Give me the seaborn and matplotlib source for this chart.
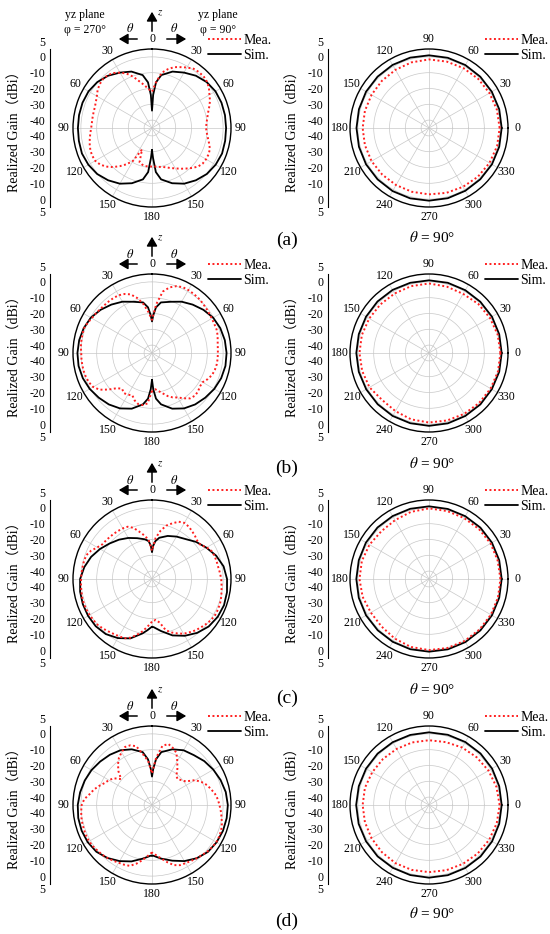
import numpy as np
import matplotlib
matplotlib.use("Agg")
import matplotlib.pyplot as plt
from matplotlib.patches import FancyArrowPatch
from matplotlib.ticker import FixedLocator, FixedFormatter, MultipleLocator
import seaborn as sns

sns.set_theme(style="white")
plt.rcParams["font.family"] = ["Liberation Serif", "Noto Sans CJK SC"]
plt.rcParams["mathtext.fontset"] = "stix"
plt.rcParams["axes.unicode_minus"] = False
plt.rcParams.update({"axes.edgecolor": "black", "text.color": "black",
                     "xtick.color": "black", "ytick.color": "black",
                     "axes.labelcolor": "black"})

# ---------------- data ----------------
# elevation cuts (yz plane): negative theta = phi 270 side, positive = phi 90 side
THETA_SIM = [-180, -178, -175, -170, -160, -150, -140, -130, -120, -110, -100, -90,
             -80, -70, -60, -50, -40, -30, -20, -10, -5, -2, 0, 2, 5, 10, 20, 30,
             40, 50, 60, 70, 80, 90, 100, 110, 120, 130, 140, 150, 160, 170, 175, 178, 180]
THETA_MEA = list(range(-180, 181, 5))

SIM_A = [-31, -26, -17, -12, -7.8, -4.3, -1.8, 0.3, 1.5, 2.2, 2.0, 1.9,
         1.9, 1.8, 1.4, 0.2, -1.8, -4.5, -7, -11, -16, -24, -34, -24, -16, -11, -7, -4.5,
         -1.8, 0.2, 1.4, 1.8, 1.9, 1.9, 2.0, 2.2, 1.5, 0.3, -1.8, -4.3, -7.8, -12, -17, -26, -31]
MEA_A = [-20.6, -20.6, -20.5, -21, -22, -30, -21, -17, -13.5, -10, -7, -4.8,
         -3.5, -3.3, -3.5, -4.2, -5, -5.8, -6.5, -6.8, -6.8, -6.7, -6.5, -5.8,
         -4.7, -3, -1.8, -1.2, -1.4, -2.5, -4.5, -7, -10.5, -14.5, -17.5, -20.3,
         -22,
         -16, -9.5, -6.5, -4, -2.5, -0.8, 0.8, 1.2, 1.2, 0.5, -1, -3,
         -4.5, -6.5, -8.3, -9.5, -10.4, -10.8, -10.2, -9.1, -7.6, -6, -5.5, -5.5,
         -5.8, -7, -9.2, -11.5, -13.5, -15.5, -17, -18.5, -19.5, -20, -20.5, -20.6]

SIM_B = [-28, -22, -16, -12, -7.5, -4.5, -2.5, -1, 0.5, 1.6, 2.2, 2.2,
         1.8, 1, -0.3, -2.5, -5, -7.5, -10.5, -12.5, -16, -21, -25, -21, -16, -12.5, -10.5, -7.5,
         -5, -2.5, -0.3, 1, 1.8, 2.2, 2.2, 1.6, 0.5, -1, -2.5, -4.5, -7.5, -12, -16, -22, -28]
MEA_B = [-21, -13, -11.5, -11.5, -13, -15.5, -14.5, -14, -15.5, -13.5, -9, -4.5,
         -2, -1, -0.5, -0.3, -0.2, -0.2, -0.2, 0.2, 0.4, 0.6, 0.8, 0,
         -1, -1.5, -2, -2.3, -2.4, -2.5, -2.8, -3.8, -5.5, -9, -13.5, -19,
         -24,
         -14, -5.5, -2, 0, 1, 1, 0.8, 0.5, 0, -0.5, -1, -1.3,
         -1.5, -1.5, -2, -2.8, -3.2, -3.3, -3.3, -3.4, -3.8, -4.5, -6, -8,
         -8, -7, -6.7, -7.5, -10, -12.5, -14, -16, -18.5, -20.5, -22, -21]

SIM_C = [-14.8, -14, -12.5, -10, -5, -1.8, 0.5, 1.5, 1.7, 1.6, 1.2, 0.5,
         -1.5, -4, -7, -10, -12.5, -15, -17.5, -19.5, -21, -24, -28, -24, -21, -18.5, -16, -14,
         -12, -8.5, -5.3, -1.8, 1, 2.5, 3.2, 3.5, 3, 1.8, -0.5, -3.5, -7, -11.5, -13.5, -14.5, -14.8]
MEA_C = [-18, -15, -11.5, -8.5, -5.5, -3.6, -3.2, -2.6, -1.8, -0.8, 0, 0.3,
         0.6, 0.8, 0.9, 0.7, 0.4, 0.1, -0.1, -0.2, -0.4, -0.5, -0.8, -2.5,
         -5, -6.7, -7, -7.3, -7.5, -7.8, -8, -8.5, -10.5, -14, -17, -20,
         -27,
         -19, -14, -10, -7.5, -5, -4, -4.5, -5.5, -6.5, -7.5, -7.5, -5,
         -3.3, -2.8, -2.6, -2.4, -1.8, -1.2, -0.8, -0.3, 0.3, 0.8, 1, 1,
         0.5, -0.5, -1.5, -2.5, -3.8, -5, -7, -9, -11.5, -17, -19, -18]

SIM_D = [-13, -12.8, -12, -10.5, -7, -4, -1.2, 1, 2, 2.4, 2.4, 2,
         1.2, 0.3, -0.8, -2.2, -3.5, -5, -7.5, -11, -16, -22, -27, -22, -16, -11, -7.5, -5,
         -3.8, -1.8, -0.2, 1.2, 2.4, 3, 3, 2.8, 2.2, 1.2, -1, -4, -7.5, -10.5, -12, -12.8, -13]
MEA_D = [-15, -12.5, -9.5, -6.5, -4, -3.3, -2.8, -2, -1.2, -0.5, 0, 0.6,
         1, 1, 0.8, 0.6, 0.4, 0, -0.5, -2, -5, -7, -9.5, -12,
         -13.5, -15.5, -19.5, -15, -11.5, -8.5, -6.5, -4.5, -4.8, -6.5, -12.5, -17,
         -25,
         -15, -7, -5, -6.5, -8.5, -13, -17, -21, -22, -20.5, -19, -13.5,
         -10.5, -8, -6.3, -4.5, -3.2, -2.3, -1.3, -0.3, 0.8, 1.6, 2, 2,
         1.5, 0.8, -0.2, -1, -1.8, -2.5, -3, -4.5, -7.5, -10.5, -13, -15]

# azimuth cuts (theta = 90 deg), phi counter-clockwise from +x
PHI = list(range(0, 361, 15))
SIM_A_AZ = [1.0, 1.0, 0.9, 0.9, 1.0, 1.0, 1.0, 1.1, 1.1, 1.0, 1.0, 0.9, 0.9,
            0.9, 1.0, 1.0, 1.1, 1.1, 1.0, 1.0, 0.9, 0.9, 1.0, 1.0, 1.0]
MEA_A_AZ = [-0.3, -0.5, -0.8, -1, -1.3, -1.5, -1.6, -2, -2.5, -2.8, -3, -3, -3,
            -3, -3, -3.2, -3.3, -3.2, -3, -2.5, -2, -1.3, -0.8, -0.4, -0.3]
SIM_B_AZ = [1.0, 1.0, 1.0, 0.9, 0.9, 1.0, 1.0, 1.0, 1.1, 1.1, 1.0, 1.0, 1.0,
            1.0, 0.9, 0.9, 1.0, 1.0, 1.1, 1.1, 1.0, 1.0, 0.9, 1.0, 1.0]
MEA_B_AZ = [0.2, 0, -0.5, -1, -1.8, -1.5, -1, -1.2, -1.5, -1.5, -1.3, -1, -1,
            -1.2, -1.5, -3, -2.5, -1.5, -1, -0.8, -0.5, -0.2, 0, 0.2, 0.2]
SIM_C_AZ = [1.0, 1.0, 1.0, 1.0, 0.9, 0.9, 1.0, 1.0, 1.0, 1.1, 1.1, 1.0, 1.0,
            1.0, 1.0, 0.9, 0.9, 1.0, 1.0, 1.1, 1.1, 1.0, 1.0, 1.0, 1.0]
MEA_C_AZ = [0.2, 0, 0, -0.3, -0.5, -0.5, -0.3, -1, -2, -2.3, -1.5, -1, -1,
            -1.5, -2.5, -2.5, -1.5, -0.5, 0, 0.2, 0.2, 0.2, 0.2, 0.2, 0.2]
SIM_D_AZ = [1.0, 1.0, 1.1, 1.1, 1.0, 1.0, 1.0, 0.9, 0.9, 1.0, 1.0, 1.0, 1.1,
            1.1, 1.0, 1.0, 0.9, 0.9, 1.0, 1.0, 1.0, 1.1, 1.1, 1.0, 1.0]
MEA_D_AZ = [-0.3, -0.8, -1.5, -2.3, -3, -3.8, -4, -4, -4, -3.8, -3.5, -3, -3,
            -3, -3, -2.8, -2.5, -2.5, -2.5, -2.3, -2, -1.5, -1, -0.6, -0.3]

ELEV_LABELS = ["0", "30", "60", "90", "120", "150", "180", "150", "120", "90", "60", "30"]
AZ_LABELS = [str(a) for a in range(0, 360, 30)]
YT_VALS = [0, -10, -20, -30, -40]
Y_EDGE = 5
R_MIN, R_MAX = -45, 5
R_GRID = [-40, -30, -20, -10, 0]
PANELS = ["(a)", "(b)", "(c)", "(d)"]

# ---------------- layout ----------------
W, H = 550, 934
RAD = 79
COL_X = (152, 429)
ROW_Y = (128, 353, 579, 805)
RED = "#ff1f1f"
SERIF = ["Liberation Serif", "Noto Sans CJK SC"]

fig = plt.figure(figsize=(W / 100, H / 100), dpi=100)
fig.patch.set_facecolor("white")


def fx(x):
    return x / W


def fy(y):
    return 1 - y / H


def polar_panel(cx, cy, th_sim, sim, th_mea, mea, labels, zero, direction):
    ax = fig.add_axes([fx(cx - RAD), fy(cy + RAD), 2 * RAD / W, 2 * RAD / H],
                      projection="polar")
    ax.set_theta_zero_location(zero)
    ax.set_theta_direction(direction)
    sns.lineplot(x=np.deg2rad(th_sim), y=sim, ax=ax, sort=False, color="black",
                 lw=1.3, label="Sim.", legend=False)
    sns.lineplot(x=np.deg2rad(th_mea), y=mea, ax=ax, sort=False, color=RED,
                 lw=1.4, linestyle=(0, (1, 1.3)), label="Mea.", legend=False)
    ax.set_ylim(R_MIN, R_MAX)
    ax.set_yticks(R_GRID)
    ax.set_yticklabels([])
    ax.set_xticks(np.deg2rad(np.arange(0, 360, 30)))
    ax.set_xticklabels(labels, fontsize=8.5)
    ax.set_xticks(np.deg2rad(np.arange(0, 360, 10)), minor=True)
    ax.tick_params(axis="x", which="both", direction="in", length=3, width=0.6, pad=0)
    ax.grid(True, color="#c8c8c8", lw=0.5)
    ax.set_xlabel("")
    ax.set_ylabel("")
    ax.spines["polar"].set_linewidth(1.0)
    ax.spines["polar"].set_color("black")
    handles, names = ax.get_legend_handles_labels()
    order = [names.index("Mea."), names.index("Sim.")]
    ax.legend([handles[i] for i in order], [names[i] for i in order],
              loc="upper left", bbox_to_anchor=(fx(cx + 56), fy(cy - 94)),
              bbox_transform=fig.transFigure, frameon=False, fontsize=10,
              handlelength=2.4, handletextpad=0.15, labelspacing=0.12,
              borderaxespad=0, borderpad=0)
    return ax


def gain_axis(xs, cy):
    gx = fig.add_axes([fx(xs), fy(cy + RAD), 0.0001, 2 * RAD / H])
    span = R_MAX - R_MIN
    gx.set_ylim(-span, span)
    pos = [v - R_MIN for v in YT_VALS] + [-(v - R_MIN) for v in YT_VALS]
    lab = [str(v) for v in YT_VALS] * 2
    gx.yaxis.set_major_locator(FixedLocator(pos + [span, -span]))
    gx.yaxis.set_major_formatter(FixedFormatter(lab + ["", ""]))
    gx.yaxis.set_minor_locator(MultipleLocator(2.5))
    gx.set_xticks([])
    for s in ("top", "right", "bottom"):
        gx.spines[s].set_visible(False)
    gx.spines["left"].set_linewidth(0.8)
    gx.spines["left"].set_color("black")
    gx.tick_params(axis="y", which="major", direction="out", length=3, width=0.7,
                   labelsize=8.5, pad=0.5)
    gx.tick_params(axis="y", which="minor", direction="out", length=1.6, width=0.5)
    gx.patch.set_alpha(0)
    # outer-ring value, nudged clear of the neighbouring "0"
    for s, va in ((span, "bottom"), (-span, "top")):
        gx.annotate(str(Y_EDGE), xy=(0, s), xycoords=("axes fraction", "data"),
                    xytext=(-3.5, 0), textcoords="offset points",
                    ha="right", va=va, fontsize=8.5)
    fig.text(fx(xs - 35), fy(cy), "Realized Gain（dBi）", rotation=90,
             ha="center", va="center", fontsize=10, family=SERIF)


def arrow(x0, y0, x1, y1):
    fig.add_artist(FancyArrowPatch((fx(x0), fy(y0)), (fx(x1), fy(y1)),
                                   transform=fig.transFigure,
                                   arrowstyle="-|>,head_length=0.55,head_width=0.32",
                                   mutation_scale=10, lw=1.1, color="black"))


elev = [(SIM_A, MEA_A), (SIM_B, MEA_B), (SIM_C, MEA_C), (SIM_D, MEA_D)]
azim = [(SIM_A_AZ, MEA_A_AZ), (SIM_B_AZ, MEA_B_AZ), (SIM_C_AZ, MEA_C_AZ), (SIM_D_AZ, MEA_D_AZ)]
LABEL_Y = (240, 468, 698, 921)
THETA90_Y = (238, 464, 690, 913)

for i, cy in enumerate(ROW_Y):
    cx_l, cx_r = COL_X
    polar_panel(cx_l, cy, THETA_SIM, elev[i][0], THETA_MEA, elev[i][1],
                ELEV_LABELS, "N", -1)
    polar_panel(cx_r, cy, PHI, azim[i][0], PHI, azim[i][1], AZ_LABELS, "E", 1)
    gain_axis(50, cy)
    gain_axis(328, cy)

    # direction markers above the elevation cut
    arrow(140, cy - 89, 116, cy - 89)
    arrow(164, cy - 89, 189, cy - 89)
    arrow(cx_l, cy - 94, cx_l, cy - 119)
    fig.text(fx(130), fy(cy - 99), r"$\theta$", fontsize=9, ha="center", va="center")
    fig.text(fx(174), fy(cy - 99), r"$\theta$", fontsize=9, ha="center", va="center")
    fig.text(fx(160), fy(cy - 115), r"$z$", fontsize=8, ha="center", va="center")

    fig.text(fx(432), fy(THETA90_Y[i]), r"$\theta$ = 90°", fontsize=11,
             ha="center", va="center")
    fig.text(fx(287), fy(LABEL_Y[i]), PANELS[i], fontsize=14, ha="center", va="center")

# plane annotations on the first elevation cut
fig.text(fx(85), fy(15), "yz plane", fontsize=8.5, ha="center", va="center")
fig.text(fx(85), fy(30), "φ = 270°", fontsize=8.5, ha="center", va="center")
fig.text(fx(218), fy(15), "yz plane", fontsize=8.5, ha="center", va="center")
fig.text(fx(218), fy(30), "φ = 90°", fontsize=8.5, ha="center", va="center")

fig.savefig("out.png", dpi=100)
